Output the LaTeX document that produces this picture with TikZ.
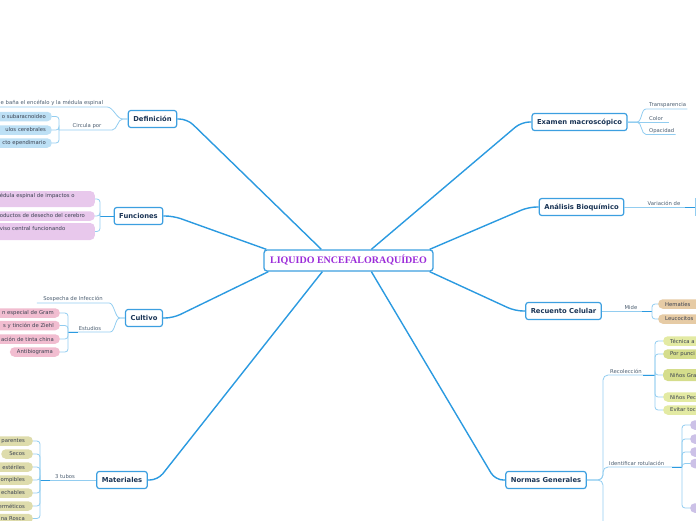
\documentclass[tikz,border=0pt]{standalone}
\usepackage{fontspec}
\setmainfont{DejaVu Sans}
\newfontfamily\titlefont{Liberation Serif}
\usetikzlibrary{calc}
\definecolor{trunkblue}{HTML}{2B9AE0}
\definecolor{boxblue}{HTML}{3C9FE0}
\definecolor{twigblue}{HTML}{92CDF0}
\definecolor{topicnavy}{HTML}{1B3556}
\definecolor{titlepurple}{HTML}{9B2BD9}
\definecolor{labelgray}{HTML}{4B5D70}
\definecolor{pilltext}{HTML}{3A4150}
\definecolor{pillblue}{HTML}{BDE0F5}
\definecolor{pilllilac}{HTML}{E8C8EC}
\definecolor{pillpink}{HTML}{F1BDD0}
\definecolor{pillkhaki}{HTML}{DEDCAC}
\definecolor{pilltan}{HTML}{E6CBA5}
\definecolor{pilllime}{HTML}{E3EAA3}
\definecolor{pilllimeb}{HTML}{D5DD8C}
\definecolor{pilllav}{HTML}{CCC1E7}
\tikzset{
  root/.style={draw=boxblue, line width=1.3pt, fill=white, rounded corners=3pt, minimum width=169pt, minimum height=21pt, inner sep=0pt, font=\titlefont\bfseries\fontsize{10}{12}\selectfont, text=titlepurple},
  topic/.style={draw=boxblue, line width=1.2pt, fill=white, rounded corners=2.5pt, minimum height=17pt, inner xsep=5pt, inner ysep=0pt, font=\bfseries\fontsize{6.8}{8}\selectfont, text=topicnavy},
  trunk/.style={draw=trunkblue, line width=1.4pt, rounded corners=8pt},
  twig/.style={draw=twigblue, line width=0.8pt},
  joint/.style={draw=trunkblue, line width=0.8pt},
  brace/.style={twig, rounded corners=3pt},
  lbl/.style={font=\fontsize{5.3}{6.5}\selectfont, text=labelgray, inner xsep=1pt, inner ysep=1.2pt},
  pill/.style={rounded corners=4.5pt, minimum height=9.5pt, inner ysep=1.5pt, inner xsep=6pt, font=\fontsize{5.3}{6.5}\selectfont, text=pilltext},
  pillL/.style={pill, anchor=east, text width=70pt, align=right},
  pillF/.style={pill, anchor=east, text width=89pt, align=left},
  pillR/.style={pill, anchor=west, text width=40pt, align=left, inner xsep=7pt},
}
\begin{document}
\begin{tikzpicture}[x=1pt,y=-1pt]
\useasboundingbox (0,0) rectangle (696,520);
\clip (0,0) rectangle (696,520);

% centre and main topics
\node[root] (liq) at (348.5,260.5) {LIQUIDO ENCEFALORAQUÍDEO};
\node[topic] (def) at (152.5,119) {Definición};
\node[topic] (fun) at (138.5,216) {Funciones};
\node[topic] (cul) at (144,318) {Cultivo};
\node[topic] (mat) at (122,480) {Materiales};
\node[topic] (exa) at (579.5,122) {Examen macroscópico};
\node[topic] (ana) at (581.5,207) {Análisis Bioquímico};
\node[topic] (rec) at (563.5,311) {Recuento Celular};
\node[topic] (nor) at (546,480) {Normas Generales};

\draw[trunk] ($(liq.north west)+(58,0)$) -- ($(def.east)+(10,0)$) -- (def.east);
\draw[trunk] ($(liq.north west)+(3,0)$) -- ($(fun.east)+(10,0)$) -- (fun.east);
\draw[trunk] ($(liq.south west)+(5,0)$) -- ($(cul.east)+(10,0)$) -- (cul.east);
\draw[trunk] ($(liq.south west)+(59,0)$) -- ($(mat.east)+(10,0)$) -- (mat.east);
\draw[trunk] ($(liq.north west)+(108,0)$) -- ($(exa.west)+(-10,0)$) -- (exa.west);
\draw[trunk] ($(liq.north east)+(-4,0)$) -- ($(ana.west)+(-10,0)$) -- (ana.west);
\draw[trunk] ($(liq.south east)+(-4,0)$) -- ($(rec.west)+(-10,0)$) -- (rec.west);
\draw[trunk] ($(liq.south west)+(108,0)$) -- ($(nor.west)+(-10,0)$) -- (nor.west);

% Definicion
\node[lbl, anchor=south west] (bana) at (-0.5,107) {e baña el encéfalo y la médula espinal};
\node[lbl, anchor=south, minimum width=50pt] (circ) at (87,130) {Circula por};
\coordinate (defJ) at (59,130);
\draw[twig] (def.west) -- ++(-5,0) .. controls +(-6,0) and +(6,0) .. ($(bana.south east)+(3,0)$) -- (bana.south west);
\draw[twig] (def.west) -- ++(-5,0) .. controls +(-5,0) and +(5,0) .. (circ.south east) -- (circ.south west) -- (defJ);
\node[pillL, fill=pillblue] (subar) at (52,116.5) {o subaracnoideo};
\node[pillL, fill=pillblue] (ventr) at (52,130) {ulos cerebrales};
\node[pillL, fill=pillblue] (epend) at (52,143) {cto ependimario};
\foreach \p in {subar,ventr,epend} \draw[brace] (defJ) |- (\p.east);

% Funciones
\coordinate (funJ) at (100,216);
\draw[joint] (fun.west) -- (funJ);
\node[pillF, fill=pilllilac, minimum height=16pt] (protege) at (95,199) {édula espinal de impactos o\\~};
\node[pillF, fill=pilllilac] (desecho) at (95,216) {oductos de desecho del cerebro};
\node[pillF, fill=pilllilac, minimum height=17pt] (sistema) at (95,231.5) {viso central funcionando\\~};
\foreach \p in {protege,desecho,sistema} \draw[brace] (funJ) |- (\p.east);

% Cultivo
\node[lbl, anchor=south, minimum width=72pt] (sosp) at (73,303) {Sospecha de Infección};
\node[lbl, anchor=south, minimum width=40pt] (estu) at (90,332) {Estudios};
\coordinate (culJ) at (68,332);
\draw[twig] (cul.west) -- ++(-5,0) .. controls +(-5,0) and +(5,0) .. (sosp.south east) -- (sosp.south west);
\draw[twig] (cul.west) -- ++(-5,0) .. controls +(-5,0) and +(5,0) .. (estu.south east) -- (estu.south west) -- (culJ);
\draw[joint] (culJ) -- ++(10,0);
\node[pillL, fill=pillpink] (gram) at (60,313) {n especial de Gram};
\node[pillL, fill=pillpink] (ziehl) at (60,325.5) {s y tinción de Ziehl};
\node[pillL, fill=pillpink] (tinta) at (60,339) {ación de tinta china};
\node[pill, fill=pillpink, anchor=east, inner xsep=7pt] (antib) at (60,352) {Antibiograma};
\foreach \p in {gram,ziehl,tinta,antib} \draw[brace] (culJ) |- (\p.east);

% Materiales
\node[lbl, anchor=south] (tubos) at (65,480) {3 tubos};
\coordinate (matJ) at (40,480);
\draw[twig] (mat.west) -- (matJ);
\draw[joint] (matJ) -- ++(10,0);
\node[pillL, fill=pillkhaki, inner xsep=8pt] (transpar) at (33,441) {parentes};
\node[pill, fill=pillkhaki, anchor=east, inner xsep=8pt] (secos) at (33,454) {Secos};
\node[pillL, fill=pillkhaki, inner xsep=8pt] (esteril) at (33,467) {estériles};
\node[pillL, fill=pillkhaki, inner xsep=8pt] (irromp) at (33,480) {ompibles};
\node[pillL, fill=pillkhaki, inner xsep=8pt] (desech) at (33,493) {echables};
\node[pillL, fill=pillkhaki, inner xsep=8pt] (hermet) at (33,506) {erméticos};
\node[pillL, fill=pillkhaki, inner xsep=8pt] (rosca) at (33,518.5) {na Rosca};
\foreach \p in {transpar,secos,esteril,irromp,desech,hermet,rosca} \draw[brace] (matJ) |- (\p.east);

% Examen macroscopico
\coordinate (exaJ) at (637,122);
\node[lbl, anchor=south west] (transp) at (648,109) {Transparencia};
\node[lbl, anchor=south west] (color) at (648,122) {Color};
\node[lbl, anchor=south west] (opac) at (648,134.5) {Opacidad};
\draw[twig] (exa.east) -- (exaJ) .. controls +(5,0) and +(-5,0) .. ($(transp.south west)+(-2,0)$) -- (transp.south east);
\draw[twig] (exa.east) -- ($(color.south east)+(5,0)$);
\draw[twig] (exa.east) -- (exaJ) .. controls +(5,0) and +(-5,0) .. ($(opac.south west)+(-2,0)$) -- (opac.south east);

% Analisis bioquimico
\node[lbl, anchor=south] (variac) at (664,207) {Variación de};
\coordinate (anaJ) at (695,207);
\draw[twig] (ana.east) -- (anaJ);
\draw[joint] (anaJ) -- ++(-10,0);
\draw[twig] ($(anaJ)+(0,-9)$) -- ($(anaJ)+(0,9)$);

% Recuento celular
\node[lbl, anchor=south] (mide) at (631,311) {Mide};
\coordinate (recJ) at (652,311);
\draw[twig] (rec.east) -- (recJ);
\draw[joint] (recJ) -- ++(-10,0);
\node[pillR, fill=pilltan] (hemat) at (658,304) {Hematíes};
\node[pillR, fill=pilltan] (leuco) at (658,319) {Leucocitos};
\foreach \p in {hemat,leuco} \draw[brace] (recJ) |- (\p.west);

% Normas generales
\coordinate (norJ) at (603,480);
\coordinate (recolJ) at (655,375);
\coordinate (rotJ) at (682,467);
\coordinate (norEnd) at (603,525);
\node[lbl, anchor=south west] (recol) at (609,375) {Recolección};
\node[lbl, anchor=south west] (rotul) at (608,467) {Identificar rotulación};
\draw[twig, rounded corners=5pt] (nor.east) -- (norJ) |- (recolJ);
\draw[twig, rounded corners=5pt] (nor.east) -- (norJ) |- (rotJ);
\draw[twig, rounded corners=5pt] (nor.east) -- (norJ) -- (norEnd);
\draw[joint] (recolJ) -- ++(-12,0);
\draw[joint] (rotJ) -- ++(-10,0);
\node[pillR, fill=pilllime] (tecnica) at (663,341) {Técnica a};
\node[pillR, fill=pilllimeb] (puncion) at (663,354) {Por punci};
\node[pillR, fill=pilllimeb, minimum height=12pt] (grandes) at (663,375) {Niños Gra};
\node[pillR, fill=pilllime] (pequen) at (663,397) {Niños Pec};
\node[pillR, fill=pilllime] (evitar) at (663,410) {Evitar toc};
\foreach \p in {tecnica,puncion,grandes,pequen,evitar} \draw[brace] (recolJ) |- (\p.west);
\foreach \y [count=\i] in {425,439,452,463.5,508}
  \node[pillR, fill=pilllav] (rot\i) at (690,\y) {};
\foreach \i in {1,...,5} \draw[brace] (rotJ) |- (rot\i.west);
\end{tikzpicture}
\end{document}
